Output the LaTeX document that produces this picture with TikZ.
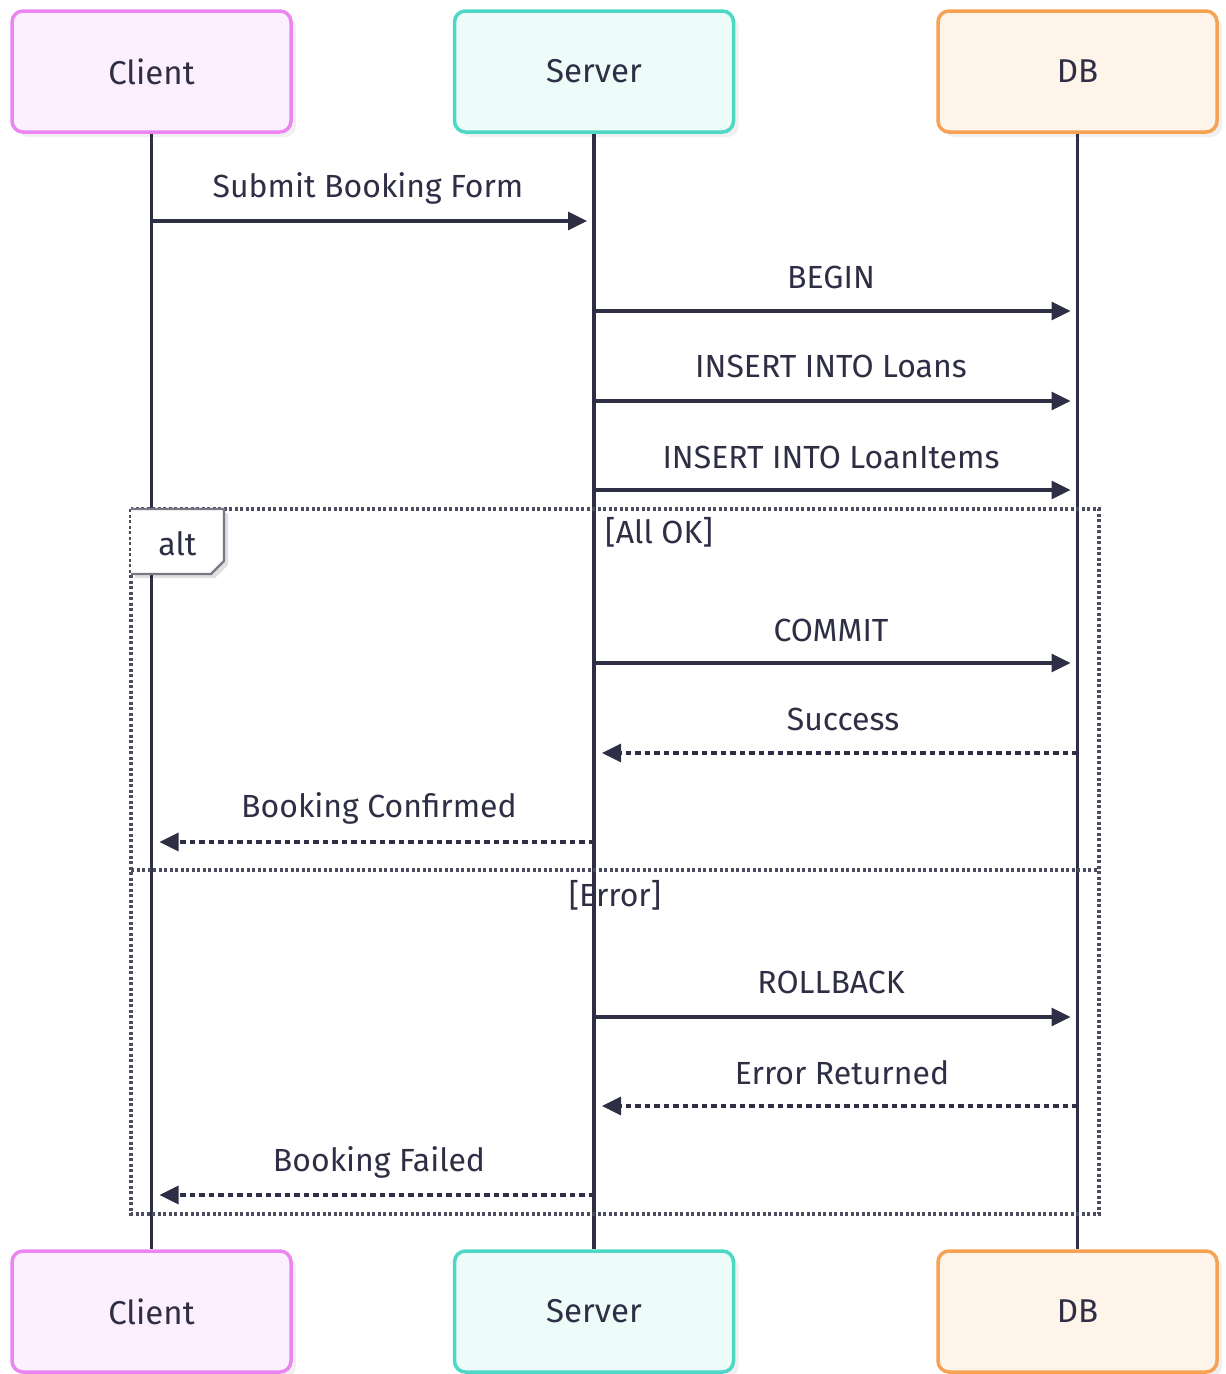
\documentclass[tikz,border=0pt]{standalone}
\usepackage{fontspec}
\setmainfont{Fira Sans}
\usetikzlibrary{arrows.meta,shadows}
\definecolor{ink}{HTML}{2E2E45}
\definecolor{cliB}{HTML}{EB85F2}
\definecolor{cliF}{HTML}{FDF0FE}
\definecolor{srvB}{HTML}{4DD8C6}
\definecolor{srvF}{HTML}{EDFBF9}
\definecolor{dbB}{HTML}{F7A253}
\definecolor{dbF}{HTML}{FFF4EA}
\tikzset{
  actor/.style={draw, line width=3.5pt, rounded corners=11pt, minimum width=279pt, minimum height=121pt,
    font=\fontsize{33}{38}\selectfont, text=ink,
    drop shadow={opacity=0.12, shadow xshift=5pt, shadow yshift=-5pt}},
  life/.style={draw=ink, line width=3.5pt},
  msg/.style={draw=ink, line width=3.2pt, -{Triangle[length=19pt,width=18pt]}},
  reply/.style={msg, dash pattern=on 5.5pt off 4pt},
  lbl/.style={font=\fontsize{32}{37}\selectfont, text=ink, inner sep=0pt},
  frame/.style={draw=ink!85, line width=3.5pt, dash pattern=on 3pt off 2.5pt}
}
\begin{document}
\begin{tikzpicture}[x=1pt,y=-1pt]
\useasboundingbox (0,0) rectangle (1226,1374);
% actors
\node[actor, draw=cliB, fill=cliF] (ct) at (151.5,71.5) {Client};
\node[actor, draw=srvB, fill=srvF] (st) at (594,71.5) {Server};
\node[actor, draw=dbB, fill=dbF] (dt) at (1077.5,71.5) {DB};
\node[actor, draw=cliB, fill=cliF] (cb) at (151.5,1311.5) {Client};
\node[actor, draw=srvB, fill=srvF] (sb) at (594,1311.5) {Server};
\node[actor, draw=dbB, fill=dbF] (db) at (1077.5,1311.5) {DB};
% lifelines
\draw[life] (ct.south) -- (cb.north);
\draw[life] (st.south) -- (sb.north);
\draw[life] (dt.south) -- (db.north);
% alt frame
\coordinate (fa) at (131,509);
\coordinate (fb) at (1099,1214);
\draw[frame] (fa) rectangle (fb);
\coordinate (da) at (131,870);
\coordinate (dbx) at (1099,870);
\draw[frame] (da) -- (dbx);
\fill[black, opacity=0.12] (135,513) -- (228,513) -- (228,565) -- (215,578) -- (135,578) -- cycle;
\fill[white] (131,509) -- (224,509) -- (224,561) -- (211,574) -- (131,574) -- cycle;
\draw[draw=ink!65, line width=2.2pt] (131,509) -- (224,509) -- (224,561) -- (211,574) -- (131,574);
\node[lbl] (alt) at (177.5,544) {alt};
\node[lbl, anchor=west] (ok) at (605,532) {[All OK]};
\node[lbl] (err) at (615,895) {[Error]};
% coordinates on lifelines
\foreach \n/\y in {1/221,2/311,3/401,4/490,5/663,6/753,7/842,8/1017,9/1106,10/1195}{
  \coordinate (c\n) at (151.5,\y);
  \coordinate (s\n) at (594,\y);
  \coordinate (d\n) at (1077.5,\y);
}
% messages
\draw[msg] (c1) -- ([xshift=-7pt]s1);
\node[lbl] (m1) at (368,188) {Submit Booking Form};
\draw[msg] (s2) -- ([xshift=-7pt]d2);
\node[lbl] (m2) at (831,277) {BEGIN};
\draw[msg] (s3) -- ([xshift=-7pt]d3);
\node[lbl] (m3) at (831,366) {INSERT INTO Loans};
\draw[msg] (s4) -- ([xshift=-7pt]d4);
\node[lbl] (m4) at (831,457) {INSERT INTO LoanItems};
\draw[msg] (s5) -- ([xshift=-7pt]d5);
\node[lbl] (m5) at (831,630) {COMMIT};
\draw[reply] (d6) -- ([xshift=8pt]s6);
\node[lbl] (m6) at (843,719) {Success};
\draw[reply] (s7) -- ([xshift=8pt]c7);
\node[lbl] (m7) at (379,808) {Booking Confirmed};
\draw[msg] (s8) -- ([xshift=-7pt]d8);
\node[lbl] (m8) at (831,982) {ROLLBACK};
\draw[reply] (d9) -- ([xshift=8pt]s9);
\node[lbl] (m9) at (842,1073) {Error Returned};
\draw[reply] (s10) -- ([xshift=8pt]c10);
\node[lbl] (m10) at (379,1162) {Booking Failed};
\end{tikzpicture}
\end{document}
